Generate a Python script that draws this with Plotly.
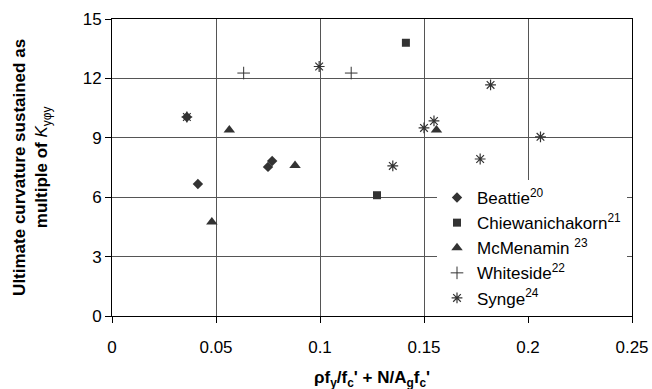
import plotly.graph_objects as go

beattie_x = [0.0413, 0.075, 0.077, 0.036]
beattie_y = [6.67, 7.53, 7.83, 10.05]

chiew_x = [0.1413, 0.1274]
chiew_y = [13.8, 6.1]

mcm_x = [0.0564, 0.088, 0.048, 0.156]
mcm_y = [9.4, 7.6, 4.75, 9.4]

white_x = [0.0633, 0.115]
white_y = [12.27, 12.27]

synge_x = [0.0996, 0.182, 0.150, 0.1548, 0.206, 0.135, 0.177, 0.036]
synge_y = [12.6, 11.67, 9.5, 9.85, 9.05, 7.58, 7.93, 10.05]

x_ticks = [0, 0.05, 0.1, 0.15, 0.2, 0.25]
x_tick_labels = ["0", "0.05", "0.1", "0.15", "0.2", "0.25"]
y_ticks = [0, 3, 6, 9, 12, 15]

C = "#333333"
FONT = "Liberation Sans, Arial, sans-serif"

fig = go.Figure()
fig.add_trace(go.Scatter(x=beattie_x, y=beattie_y, mode="markers", name="Beattie<sup>20</sup>",
                         marker=dict(symbol="diamond", size=8, color=C)))
fig.add_trace(go.Scatter(x=chiew_x, y=chiew_y, mode="markers", name="Chiewanichakorn<sup>21</sup>",
                         marker=dict(symbol="square", size=8, color=C)))
fig.add_trace(go.Scatter(x=mcm_x, y=mcm_y, mode="markers", name="McMenamin <sup>23</sup>",
                         marker=dict(symbol="triangle-up", size=10, color=C)))
fig.add_trace(go.Scatter(x=white_x, y=white_y, mode="markers", name="Whiteside<sup>22</sup>",
                         marker=dict(symbol="cross-thin-open", size=9, color=C, line=dict(color=C, width=1))))
fig.add_trace(go.Scatter(x=synge_x, y=synge_y, mode="markers", name="Synge<sup>24</sup>",
                         marker=dict(symbol="asterisk-open", size=9, color=C, line=dict(color=C, width=1.2))))

fig.update_layout(
    width=652, height=389,
    margin=dict(l=112, r=20, t=19, b=73),
    paper_bgcolor="white", plot_bgcolor="white",
    font=dict(family=FONT, size=17, color="black"),
    showlegend=True,
    legend=dict(x=0.625, y=0.0, xanchor="left", yanchor="bottom",
                bgcolor="white", borderwidth=0, font=dict(size=17, family=FONT),
                itemwidth=30, tracegroupgap=0),
    xaxis=dict(range=[0, 0.25], tickvals=x_ticks, ticktext=x_tick_labels,
               showgrid=True, gridcolor="#555555", gridwidth=1,
               showline=True, linecolor="black", linewidth=1, mirror=True,
               ticks="outside", ticklen=6, tickcolor="black",
               ticklabelstandoff=10, automargin=False,
               zeroline=False, tickfont=dict(size=17)),
    yaxis=dict(range=[0, 15], tickvals=y_ticks,
               showgrid=True, gridcolor="#555555", gridwidth=1,
               showline=True, linecolor="black", linewidth=1, mirror=True,
               ticks="outside", ticklen=6, tickcolor="black", automargin=False,
               zeroline=False, tickfont=dict(size=17)),
    annotations=[
        dict(text="<b>Ultimate curvature sustained as<br>multiple of </b><i>K</i><sub>yφy</sub>",
             textangle=-90, xref="paper", yref="paper", x=-0.155, y=0.5,
             xanchor="center", yanchor="middle", showarrow=False,
             font=dict(size=17, family=FONT, color="black")),
        dict(text="<b>ρf<sub>y</sub>/f<sub>c</sub>' + N/A<sub>g</sub>f<sub>c</sub>'</b>",
             xref="paper", yref="paper", x=0.5, y=-0.212,
             xanchor="center", yanchor="middle", showarrow=False,
             font=dict(size=17, family=FONT, color="black")),
    ],
)

fig.write_html("out.html", config={"displayModeBar": False},
               post_script="document.body.style.margin='0';document.body.style.overflow='hidden';")
